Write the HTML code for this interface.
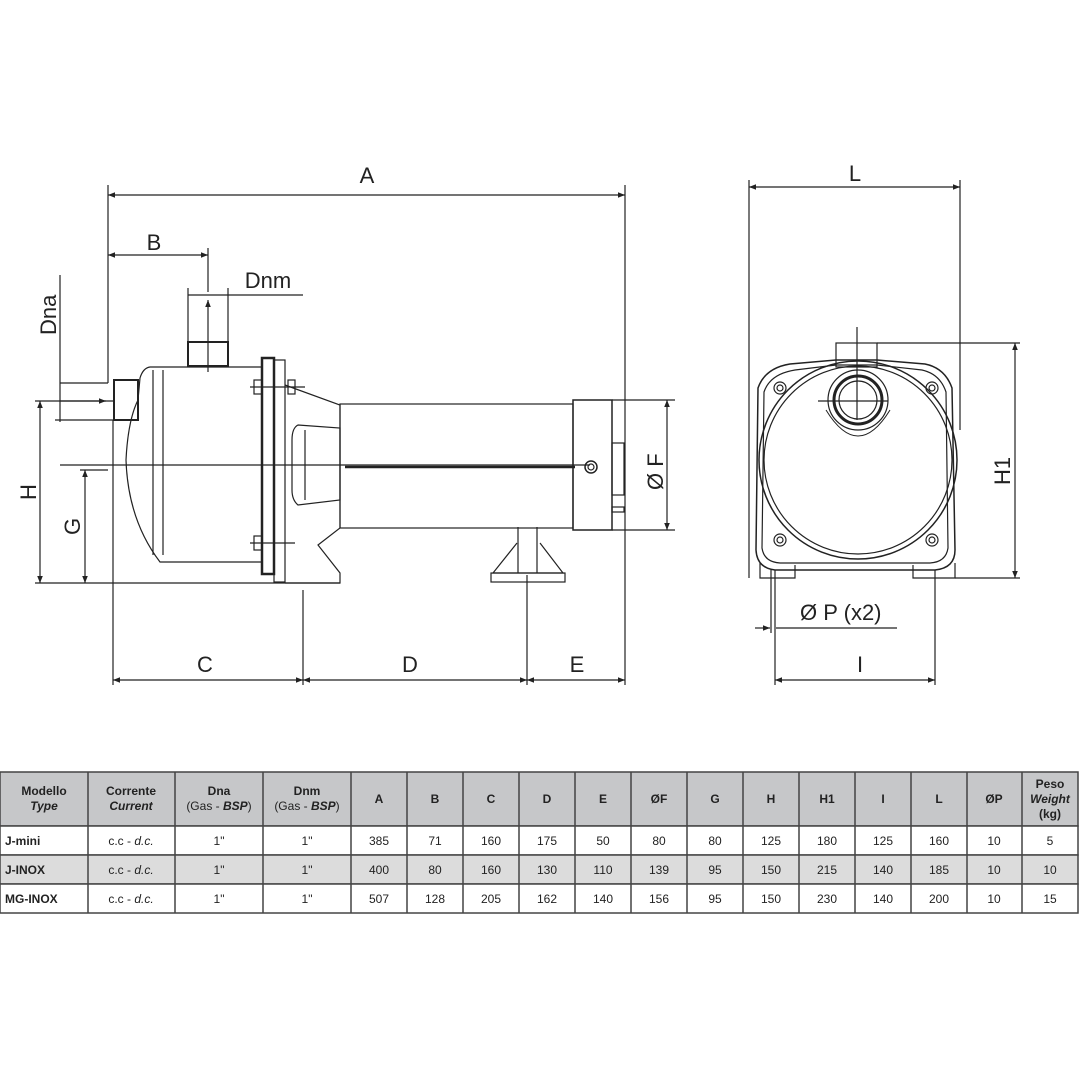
<!DOCTYPE html>
<html><head><meta charset="utf-8"><style>
body{margin:0;background:#fff}
svg{display:block}
text{font-family:"Liberation Sans",Arial,sans-serif}
</style></head><body>
<svg width="1080" height="1080" viewBox="0 0 1080 1080" xmlns="http://www.w3.org/2000/svg">
<defs>
<marker id="ar" viewBox="0 0 10 10" refX="10" refY="5" markerWidth="9" markerHeight="7" orient="auto-start-reverse" markerUnits="userSpaceOnUse"><path d="M0,1 L10,5 L0,9 z" fill="#222"/></marker>
</defs>
<rect width="1080" height="1080" fill="#fff"/>
<g stroke="#222" stroke-width="1.2" fill="none">
<!-- dimension A -->
<line x1="108" y1="195" x2="625" y2="195" marker-start="url(#ar)" marker-end="url(#ar)"/>
<line x1="108" y1="185" x2="108" y2="383"/>
<line x1="625" y1="185" x2="625" y2="685"/>
<!-- B -->
<line x1="108" y1="255" x2="208" y2="255" marker-start="url(#ar)" marker-end="url(#ar)"/>
<line x1="208" y1="248" x2="208" y2="292"/>
<!-- Dnm -->
<line x1="188" y1="295" x2="303" y2="295"/>
<line x1="208" y1="372" x2="208" y2="300" marker-end="url(#ar)"/>
<line x1="188" y1="288" x2="188" y2="342"/><line x1="228" y1="288" x2="228" y2="342"/>
<!-- Dna -->
<line x1="60" y1="383" x2="108" y2="383"/>
<line x1="60" y1="275" x2="60" y2="422"/>
<line x1="60" y1="401" x2="106" y2="401" marker-end="url(#ar)"/>
<line x1="55" y1="420" x2="113" y2="420"/>
<!-- H, G -->
<line x1="35" y1="401" x2="113" y2="401"/>
<line x1="40" y1="401" x2="40" y2="583" marker-start="url(#ar)" marker-end="url(#ar)"/>
<line x1="80" y1="470" x2="108" y2="470"/>
<line x1="85" y1="470" x2="85" y2="583" marker-start="url(#ar)" marker-end="url(#ar)"/>
<line x1="35" y1="583" x2="340" y2="583"/>
<!-- C D E -->
<line x1="113" y1="420" x2="113" y2="685"/>
<line x1="303" y1="590" x2="303" y2="685"/>
<line x1="527" y1="575" x2="527" y2="685"/>
<line x1="113" y1="680" x2="303" y2="680" marker-start="url(#ar)" marker-end="url(#ar)"/>
<line x1="303" y1="680" x2="527" y2="680" marker-start="url(#ar)" marker-end="url(#ar)"/>
<line x1="527" y1="680" x2="625" y2="680" marker-start="url(#ar)" marker-end="url(#ar)"/>
<!-- pump side view -->
<rect x="188" y="342" width="40" height="24" stroke-width="2"/>
<rect x="114" y="380" width="24" height="40" stroke-width="2"/>
<path d="M150,367 L262,367 L262,562 L160,562 Q128,520 126,460 Q128,420 138,400 L140,378 Q143,368 150,367 Z"/>
<line x1="153" y1="370" x2="153" y2="555"/><line x1="163" y1="370" x2="163" y2="555"/>
<rect x="262" y="358" width="12" height="216" stroke-width="2.5"/>
<rect x="274" y="360" width="11" height="222"/>
<path d="M285,385 L340,405 L340,528 L318,545 L340,573 L340,583 L285,583"/>
<path d="M298,425 L340,428 L340,500 L298,505 Q292,500 292,490 L292,440 Q292,428 298,425 Z"/>
<line x1="305" y1="430" x2="305" y2="500"/>
<line x1="250" y1="387" x2="305" y2="387"/><line x1="250" y1="543" x2="295" y2="543"/>
<rect x="254" y="380" width="8" height="14"/><rect x="254" y="536" width="8" height="14"/>
<rect x="288" y="380" width="7" height="14"/>
<line x1="60" y1="465" x2="590" y2="465"/>
<line x1="345" y1="467" x2="575" y2="467" stroke-width="2.5"/>
<rect x="340" y="404" width="233" height="124"/>
<rect x="573" y="400" width="39" height="130" stroke-width="1.5"/>
<rect x="612" y="443" width="12" height="52"/>
<rect x="612" y="507" width="12" height="5"/>
<circle cx="591" cy="467" r="6" stroke-width="1.5"/><circle cx="591" cy="467" r="3"/>
<line x1="518" y1="527" x2="518" y2="573"/><line x1="537" y1="527" x2="537" y2="573"/>
<path d="M517,543 L493,573 L563,573 L540,543"/>
<rect x="491" y="573" width="74" height="9"/>
<!-- ØF -->
<line x1="612" y1="400" x2="675" y2="400"/><line x1="612" y1="530" x2="675" y2="530"/>
<line x1="667" y1="400" x2="667" y2="530" marker-start="url(#ar)" marker-end="url(#ar)"/>

<!-- Front view -->
<line x1="749" y1="187" x2="960" y2="187" marker-start="url(#ar)" marker-end="url(#ar)"/>
<line x1="749" y1="180" x2="749" y2="578"/>
<line x1="960" y1="180" x2="960" y2="430"/>
<line x1="877" y1="343" x2="1020" y2="343"/>
<line x1="955" y1="578" x2="1020" y2="578"/>
<line x1="1015" y1="343" x2="1015" y2="578" marker-start="url(#ar)" marker-end="url(#ar)"/>
<rect x="836" y="343" width="41" height="24"/>
<line x1="857" y1="327" x2="857" y2="420"/>
<path d="M790,364 L836,360 L877,360 L925,364 Q945,368 952,388 L955,550 Q955,568 935,570 L775,570 Q757,568 756,550 L758,388 Q765,368 790,364 Z" stroke-width="1.5"/>
<path d="M795,370 L836,365 L877,365 L922,370 Q940,374 946,392 L948,548 Q946,562 930,563 L780,563 Q764,562 762,548 L764,392 Q770,374 795,370 Z"/>
<circle cx="858" cy="460" r="99" stroke-width="1.5"/>
<circle cx="858" cy="460" r="94"/>
<circle cx="858" cy="400" r="30"/>
<circle cx="858" cy="400" r="24" stroke-width="3"/>
<circle cx="858" cy="400" r="19"/>
<path d="M826,410 Q858,462 890,410" stroke-width="1"/>
<line x1="818" y1="401" x2="888" y2="401"/>
<circle cx="780" cy="388" r="6"/><circle cx="780" cy="388" r="3"/>
<circle cx="932" cy="388" r="6"/><circle cx="932" cy="388" r="3"/>
<circle cx="780" cy="540" r="6"/><circle cx="780" cy="540" r="3"/>
<circle cx="932" cy="540" r="6"/><circle cx="932" cy="540" r="3"/>
<path d="M760,563 L760,578 L795,578 L795,565"/>
<path d="M913,565 L913,578 L955,578 L955,563"/>
<line x1="771" y1="570" x2="771" y2="633"/><line x1="775" y1="570" x2="775" y2="685"/>
<line x1="935" y1="570" x2="935" y2="685"/>
<line x1="755" y1="628" x2="770" y2="628" marker-end="url(#ar)"/>
<line x1="776" y1="628" x2="897" y2="628"/>
<line x1="775" y1="680" x2="935" y2="680" marker-start="url(#ar)" marker-end="url(#ar)"/>
</g>
<g font-size="22" fill="#222">
<text x="367" y="183" text-anchor="middle">A</text>
<text x="154" y="250" text-anchor="middle">B</text>
<text x="268" y="288" text-anchor="middle">Dnm</text>
<text transform="translate(56,335) rotate(-90)">Dna</text>
<text transform="translate(36,500) rotate(-90)">H</text>
<text transform="translate(80,535) rotate(-90)">G</text>
<text x="205" y="672" text-anchor="middle">C</text>
<text x="410" y="672" text-anchor="middle">D</text>
<text x="577" y="672" text-anchor="middle">E</text>
<text transform="translate(663,490) rotate(-90)">Ø F</text>
<text x="855" y="181" text-anchor="middle">L</text>
<text transform="translate(1010,485) rotate(-90)">H1</text>
<text x="800" y="620">Ø P (x2)</text>
<text x="860" y="672" text-anchor="middle">I</text>
</g>
<!-- Table -->
<g stroke="#444" stroke-width="1.5">
<rect x="0" y="772" width="1078" height="54" fill="#c6c7c9"/>
<rect x="0" y="826" width="1078" height="29" fill="#fff"/>
<rect x="0" y="855" width="1078" height="29" fill="#dcdcdc"/>
<rect x="0" y="884" width="1078" height="29" fill="#fff"/>
<path d="M88,772V913M175,772V913M263,772V913M351,772V913M407,772V913M463,772V913M519,772V913M575,772V913M631,772V913M687,772V913M743,772V913M799,772V913M855,772V913M911,772V913M967,772V913M1022,772V913"/>
</g>
<g font-size="12" fill="#222" text-anchor="middle" font-weight="bold">
<text x="44" y="795">Modello</text><text x="44" y="810" font-style="italic">Type</text>
<text x="131" y="795">Corrente</text><text x="131" y="810" font-style="italic">Current</text>
<text x="219" y="795">Dna</text><text x="219" y="810" font-weight="normal">(Gas - <tspan font-weight="bold" font-style="italic">BSP</tspan>)</text>
<text x="307" y="795">Dnm</text><text x="307" y="810" font-weight="normal">(Gas - <tspan font-weight="bold" font-style="italic">BSP</tspan>)</text>
<text x="379" y="803">A</text><text x="435" y="803">B</text><text x="491" y="803">C</text><text x="547" y="803">D</text><text x="603" y="803">E</text><text x="659" y="803">ØF</text><text x="715" y="803">G</text><text x="771" y="803">H</text><text x="827" y="803">H1</text><text x="883" y="803">I</text><text x="939" y="803">L</text><text x="994" y="803">ØP</text>
<text x="1050" y="788">Peso</text><text x="1050" y="803" font-style="italic">Weight</text><text x="1050" y="818">(kg)</text>
</g>
<g font-size="12" fill="#222" text-anchor="middle">
<text x="5" y="845" text-anchor="start" font-weight="bold">J-mini</text>
<text x="5" y="874" text-anchor="start" font-weight="bold">J-INOX</text>
<text x="5" y="903" text-anchor="start" font-weight="bold">MG-INOX</text>
<text x="131" y="845">c.c - <tspan font-style="italic">d.c.</tspan></text>
<text x="131" y="874">c.c - <tspan font-style="italic">d.c.</tspan></text>
<text x="131" y="903">c.c - <tspan font-style="italic">d.c.</tspan></text>
<text x="219" y="845">1"</text><text x="219" y="874">1"</text><text x="219" y="903">1"</text>
<text x="307" y="845">1"</text><text x="307" y="874">1"</text><text x="307" y="903">1"</text>
<text x="379" y="845">385</text><text x="435" y="845">71</text><text x="491" y="845">160</text><text x="547" y="845">175</text><text x="603" y="845">50</text><text x="659" y="845">80</text><text x="715" y="845">80</text><text x="771" y="845">125</text><text x="827" y="845">180</text><text x="883" y="845">125</text><text x="939" y="845">160</text><text x="994" y="845">10</text><text x="1050" y="845">5</text>
<text x="379" y="874">400</text><text x="435" y="874">80</text><text x="491" y="874">160</text><text x="547" y="874">130</text><text x="603" y="874">110</text><text x="659" y="874">139</text><text x="715" y="874">95</text><text x="771" y="874">150</text><text x="827" y="874">215</text><text x="883" y="874">140</text><text x="939" y="874">185</text><text x="994" y="874">10</text><text x="1050" y="874">10</text>
<text x="379" y="903">507</text><text x="435" y="903">128</text><text x="491" y="903">205</text><text x="547" y="903">162</text><text x="603" y="903">140</text><text x="659" y="903">156</text><text x="715" y="903">95</text><text x="771" y="903">150</text><text x="827" y="903">230</text><text x="883" y="903">140</text><text x="939" y="903">200</text><text x="994" y="903">10</text><text x="1050" y="903">15</text>
</g>
</svg>
</body></html>
